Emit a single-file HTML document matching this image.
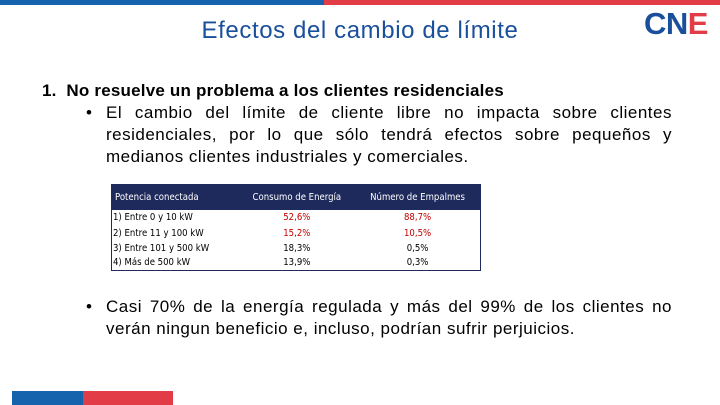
<!DOCTYPE html>
<html><head><meta charset="utf-8"><style>
body{margin:0;width:720px;height:405px;position:relative;overflow:hidden;background:#fff;font-family:"Liberation Sans",sans-serif}
.a{position:absolute}
.t{font-size:17px;color:#000;line-height:22px;letter-spacing:0.5px}
.j{text-align:justify;text-align-last:justify;width:566px;height:22px}
table{border-collapse:collapse;font-size:9.5px;font-family:"DejaVu Sans Condensed","Liberation Sans Narrow","Liberation Sans",sans-serif}
</style></head><body>
<div class="a" style="left:0;top:0;width:324px;height:5px;background:#1563ac"></div>
<div class="a" style="left:324px;top:0;width:396px;height:5px;background:#e23d46"></div>
<div class="a" style="left:0;top:17px;width:720px;text-align:center;font-size:24px;color:#1a4f9c;letter-spacing:0.6px">Efectos del cambio de límite</div>
<div class="a" style="left:644px;top:7px;font-size:31px;font-weight:bold;letter-spacing:-0.5px;color:#1a4f9c;line-height:34px">CN<span style="color:#e23d46">E</span></div>
<div class="a t" style="left:42px;top:80px;font-weight:bold;letter-spacing:0.2px">1.&nbsp; No resuelve un problema a los clientes residenciales</div>
<div class="a t" style="left:86px;top:102px">•</div>
<div class="a t" style="left:106px;top:102px;width:566px">
<div class="j">El cambio del límite de cliente libre no impacta sobre clientes</div>
<div class="j">residenciales, por lo que sólo tendrá efectos sobre pequeños y</div>
<div>medianos clientes industriales y comerciales.</div>
</div>
<table class="a" style="left:111px;top:184px;width:370px;border:1px solid #1f2a5c">
<tr style="background:#1f2a5c;color:#fff;height:25px"><td style="padding-left:3px">Potencia conectada</td><td style="text-align:center">Consumo de Energía</td><td style="text-align:center">Número de Empalmes</td></tr>
<tr style="height:16px"><td>1) Entre 0 y 10 kW</td><td style="text-align:center;color:#c00000">52,6%</td><td style="text-align:center;color:#c00000">88,7%</td></tr>
<tr style="height:15px"><td>2) Entre 11 y 100 kW</td><td style="text-align:center;color:#c00000">15,2%</td><td style="text-align:center;color:#c00000">10,5%</td></tr>
<tr style="height:15px"><td>3) Entre 101 y 500 kW</td><td style="text-align:center">18,3%</td><td style="text-align:center">0,5%</td></tr>
<tr style="height:15px"><td>4) Más de 500 kW</td><td style="text-align:center">13,9%</td><td style="text-align:center">0,3%</td></tr>
</table>
<div class="a t" style="left:86px;top:296px">•</div>
<div class="a t" style="left:106px;top:296px;width:566px">
<div class="j">Casi 70% de la energía regulada y más del 99% de los clientes no</div>
<div>verán ningun beneficio e, incluso, podrían sufrir perjuicios.</div>
</div>
<div class="a" style="left:12px;top:391px;width:71px;height:14px;background:#1563ac"></div>
<div class="a" style="left:83px;top:391px;width:90px;height:14px;background:#e23d46"></div>
</body></html>
